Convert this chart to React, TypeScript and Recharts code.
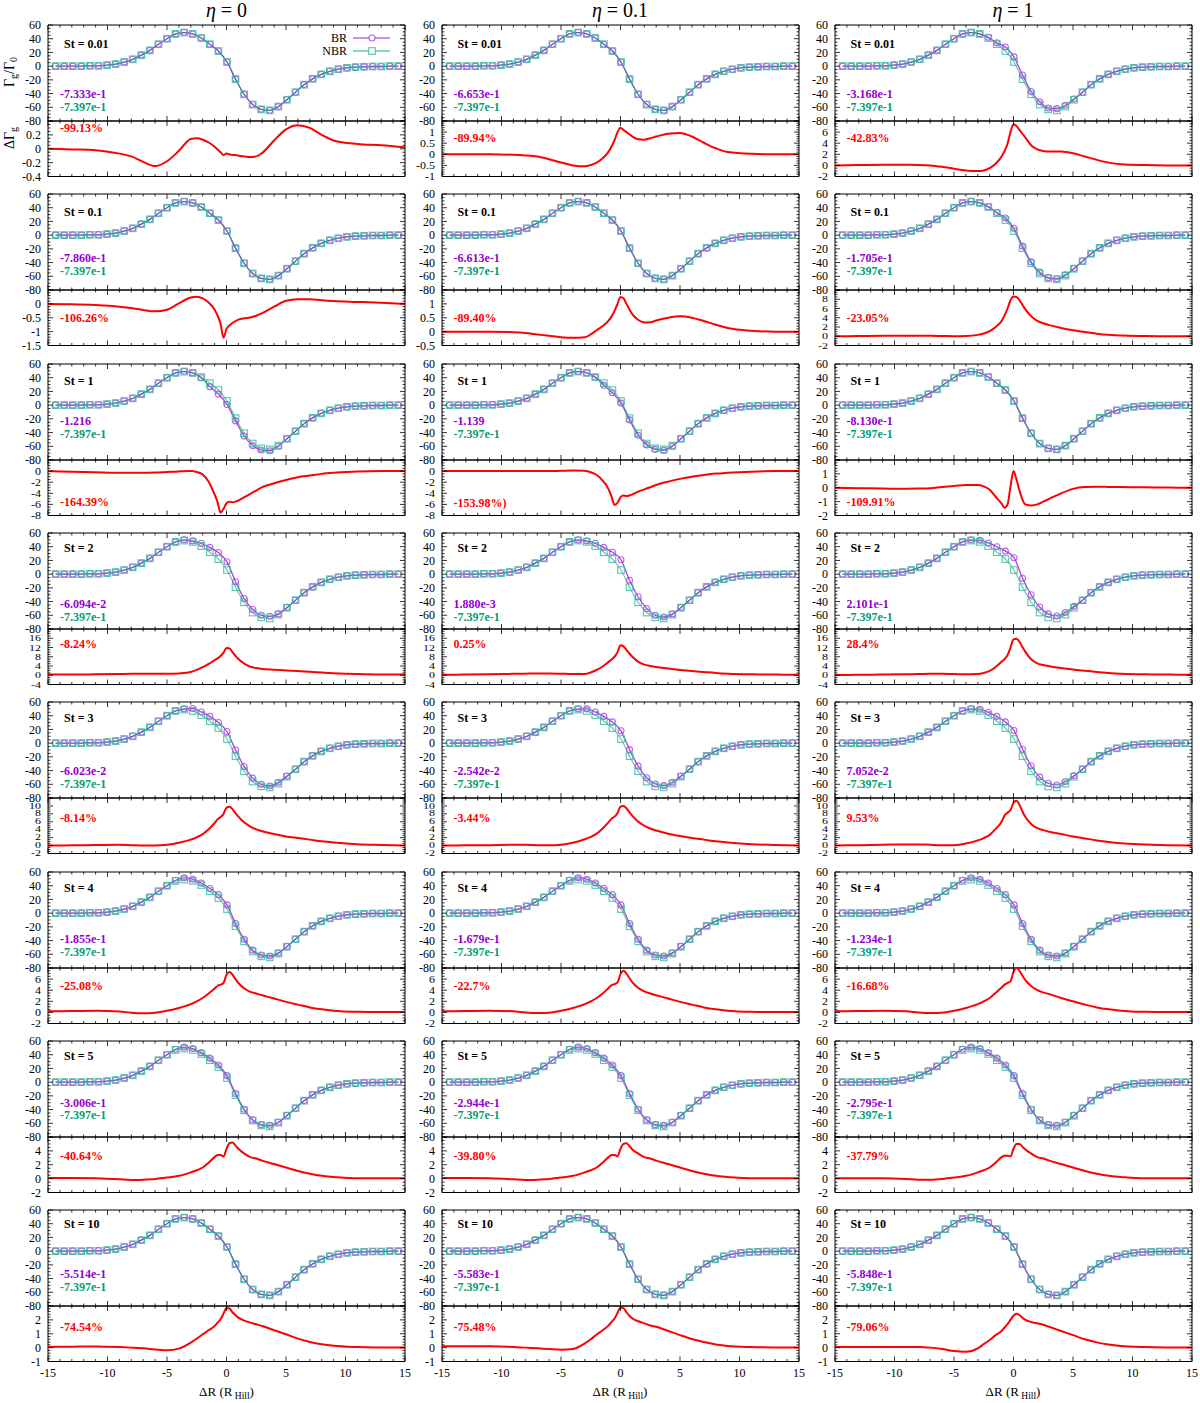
import React from 'react';
import { LineChart, Line, XAxis, YAxis, ReferenceLine } from 'recharts';

const FONT = '"Liberation Serif", "Times New Roman", serif';
const BR_COLOR = '#9400d3';
const NBR_COLOR = '#009e73';
const DIFF_COLOR = '#ff0000';

// ---- labels ----
const ETA_LABELS = ['0', '0.1', '1'];
const ST_LABELS = ['St = 0.01', 'St = 0.1', 'St = 1', 'St = 2', 'St = 3', 'St = 4', 'St = 5', 'St = 10'];
const BR_TORQUE = [
  ['-7.333e-1', '-6.653e-1', '-3.168e-1'],
  ['-7.860e-1', '-6.613e-1', '-1.705e-1'],
  ['-1.216', '-1.139', '-8.130e-1'],
  ['-6.094e-2', '1.880e-3', '2.101e-1'],
  ['-6.023e-2', '-2.542e-2', '7.052e-2'],
  ['-1.855e-1', '-1.679e-1', '-1.234e-1'],
  ['-3.006e-1', '-2.944e-1', '-2.795e-1'],
  ['-5.514e-1', '-5.583e-1', '-5.848e-1'],
];
const NBR_TORQUE = '-7.397e-1';
const DIFF_PERCENT = [
  ['-99.13%', '-89.94%', '-42.83%'],
  ['-106.26%', '-89.40%', '-23.05%'],
  ['-164.39%', '-153.98%)', '-109.91%'],
  ['-8.24%', '0.25%', '28.4%'],
  ['-8.14%', '-3.44%', '9.53%'],
  ['-25.08%', '-22.7%', '-16.68%'],
  ['-40.64%', '-39.80%', '-37.79%'],
  ['-74.54%', '-75.48%', '-79.06%'],
];

// ---- ticks ----
const X_TICKS = [-15, -10, -5, 0, 5, 10, 15];
const MAIN_TICKS = [-80, -60, -40, -20, 0, 20, 40, 60];
const DIFF_TICKS = [
  [[-0.4, -0.2, 0, 0.2, 0.4], [-1, -0.5, 0, 0.5, 1, 1.5], [-2, 0, 2, 4, 6, 8]],
  [[-1.5, -1, -0.5, 0, 0.5], [-0.5, 0, 0.5, 1, 1.5], [-2, 0, 2, 4, 6, 8, 10]],
  [[-8, -6, -4, -2, 0, 2], [-8, -6, -4, -2, 0, 2], [-2, -1, 0, 1, 2]],
  [[-4, 0, 4, 8, 12, 16, 20], [-4, 0, 4, 8, 12, 16, 20], [-4, 0, 4, 8, 12, 16, 20]],
  [[-2, 0, 2, 4, 6, 8, 10, 12], [-2, 0, 2, 4, 6, 8, 10, 12], [-2, 0, 2, 4, 6, 8, 10, 12]],
  [[-2, 0, 2, 4, 6, 8], [-2, 0, 2, 4, 6, 8], [-2, 0, 2, 4, 6, 8]],
  [[-2, 0, 2, 4, 6], [-2, 0, 2, 4, 6], [-2, 0, 2, 4, 6]],
  [[-1, 0, 1, 2, 3], [-1, 0, 1, 2, 3], [-1, 0, 1, 2, 3]],
];
const DIFF_MINOR = [
  [0.05, 0.1, 0.5],
  [0.1, 0.1, 0.5],
  [0.5, 0.5, 0.2],
  [1, 1, 1],
  [0.5, 0.5, 0.5],
  [0.5, 0.5, 0.5],
  [0.5, 0.5, 0.5],
  [0.2, 0.2, 0.2],
];

// ---- torque curves (markers) ----
const MARKER_X = [-14.36, -13.64, -12.92, -12.2, -11.48, -10.76, -10.04, -9.32, -8.6, -7.88, -7.16, -6.44, -5.72, -5.0, -4.28, -3.56, -2.84, -2.12, -1.4, -0.68, 0.04, 0.76, 1.48, 2.2, 2.92, 3.64, 4.36, 5.08, 5.8, 6.52, 7.24, 7.96, 8.68, 9.4, 10.12, 10.84, 11.56, 12.28, 13.0, 13.72, 14.44];
const NBR = [0, 0, 0, 0, 0.5, 0.5, 1.5, 3, 6, 10, 16, 23, 32, 40, 47, 49, 47, 41, 32, 22, 6, -19, -41, -56, -63, -64.5, -59, -49, -38, -27, -18.5, -12, -7.5, -4.5, -2.5, -1.5, -1, -0.5, -0.5, 0, 0];
const BR_ST001_ETA1 = [0, 0, 0, 0, 0.5, 0.5, 1.5, 3, 6, 10, 16, 23, 32, 40, 47, 49, 47, 42, 34, 28, 13.5, -13, -37, -52, -61, -62, -57, -48, -38, -27, -18.5, -12, -7.5, -4.5, -2.5, -1.5, -1, -0.5, -0.5, 0, 0];
const BR_ST01_ETA1 = [0, 0, 0, 0, 0.5, 0.5, 1.5, 3, 6, 10, 16, 23, 32, 40, 47, 49, 47, 41.5, 33, 25, 10, -16, -39, -54, -62, -63.5, -58, -48.5, -38, -27, -18.5, -12, -7.5, -4.5, -2.5, -1.5, -1, -0.5, -0.5, 0, 0];
const BR_ST1_ETA0 = [0, 0, 0, 0, 0.5, 0.5, 1.5, 3, 6, 10, 16, 23, 32, 40, 47, 49, 47, 40, 27, 16, 1, -23, -45, -59, -65.5, -66.5, -60, -49, -38, -27, -18.5, -12, -7.5, -4.5, -2.5, -1.5, -1, -0.5, -0.5, 0, 0];
const BR_ST1_ETA01 = [0, 0, 0, 0, 0.5, 0.5, 1.5, 3, 6, 10, 16, 23, 32, 40, 47, 49, 47, 40.5, 29, 18, 3, -21.5, -44, -58, -64.5, -66, -60, -49, -38, -27, -18.5, -12, -7.5, -4.5, -2.5, -1.5, -1, -0.5, -0.5, 0, 0];
const BR_ST2_ETA0 = [0, 0, 0, 0, 0.5, 0.5, 1.5, 3, 6, 10, 16, 23, 32, 40, 47, 50, 48.5, 45, 39, 31.5, 18, -11, -35.5, -51.5, -60, -61.5, -58, -48.5, -38, -27, -18.5, -12, -7.5, -4.5, -2.5, -1.5, -1, -0.5, -0.5, 0, 0];
const BR_ST2_ETA01 = [0, 0, 0, 0, 0.5, 0.5, 1.5, 3, 6, 10, 16, 23, 32, 40, 47, 50, 48.5, 45, 39, 32, 21, -9, -33, -50, -60, -62.5, -58, -48.5, -38, -27, -18.5, -12, -7.5, -4.5, -2.5, -1.5, -1, -0.5, -0.5, 0, 0];
const BR_ST2_ETA1 = [0, 0, 0, 0, 0.5, 0.5, 1.5, 3, 6, 10, 16, 23, 32, 40, 47, 50, 49.5, 45.5, 40, 33.5, 24, -6, -30, -48, -58, -61, -56, -47, -38, -27, -18.5, -12, -7.5, -4.5, -2.5, -1.5, -1, -0.5, -0.5, 0, 0];
const BR_ST3_ETA0 = [0, 0, 0, 0, 0.5, 0.5, 1.5, 3, 6, 10, 16, 23, 32, 40, 47, 50, 50.5, 45.5, 39, 30, 17, -10, -34, -51, -60, -62.5, -57, -48, -38, -27, -18.5, -12, -7.5, -4.5, -2.5, -1.5, -1, -0.5, -0.5, 0, 0];
const BR_ST3_ETA01 = [0, 0, 0, 0, 0.5, 0.5, 1.5, 3, 6, 10, 16, 23, 32, 40, 47, 50, 50, 45.5, 39, 31, 18, -9.5, -33.5, -50.5, -59.5, -62, -57, -48, -38, -27, -18.5, -12, -7.5, -4.5, -2.5, -1.5, -1, -0.5, -0.5, 0, 0];
const BR_ST3_ETA1 = [0, 0, 0, 0, 0.5, 0.5, 1.5, 3, 6, 10, 16, 23, 32, 40, 47, 50, 49.5, 45, 39, 31, 18.5, -9, -33, -49.5, -58.5, -61, -56, -47.5, -38, -27, -18.5, -12, -7.5, -4.5, -2.5, -1.5, -1, -0.5, -0.5, 0, 0];
const BR_ST4 = [0, 0, 0, 0, 0.5, 0.5, 1.5, 3, 6, 10, 16, 23, 32, 40, 48, 51.5, 49.5, 44, 36, 27, 12, -15, -38, -54, -61, -62.5, -58, -48.5, -38, -27, -18.5, -12, -7.5, -4.5, -2.5, -1.5, -1, -0.5, -0.5, 0, 0];
const BR_ST5 = [0, 0, 0, 0, 0.5, 0.5, 1.5, 3, 6, 10, 16, 23, 32, 40, 48, 51, 49, 43, 35, 25, 9.5, -16.5, -39.5, -55, -62, -63, -58.5, -48.5, -38, -27, -18.5, -12, -7.5, -4.5, -2.5, -1.5, -1, -0.5, -0.5, 0, 0];

const BR_SERIES = [
  [NBR, NBR, BR_ST001_ETA1],
  [NBR, NBR, BR_ST01_ETA1],
  [BR_ST1_ETA0, BR_ST1_ETA01, NBR],
  [BR_ST2_ETA0, BR_ST2_ETA01, BR_ST2_ETA1],
  [BR_ST3_ETA0, BR_ST3_ETA01, BR_ST3_ETA1],
  [BR_ST4, BR_ST4, BR_ST4],
  [BR_ST5, BR_ST5, BR_ST5],
  [NBR, NBR, NBR],
];

// ---- difference curves ----
const DIFF_X = [-15, -13, -11, -9, -8, -7, -6, -5, -4, -3, -2.5, -2, -1.5, -1, -0.75, -0.5, -0.25, 0, 0.25, 0.5, 0.75, 1, 1.5, 2, 2.5, 3, 4, 5, 6, 7, 8, 9, 11, 13, 15];
const D_ST001_ETA0 = [0, -0.01, -0.02, -0.07, -0.11, -0.19, -0.25, -0.18, -0.03, 0.14, 0.15, 0.13, 0.09, 0.03, -0.01, -0.05, -0.09, -0.07, -0.08, -0.09, -0.09, -0.1, -0.11, -0.12, -0.11, -0.06, 0.12, 0.28, 0.34, 0.3, 0.2, 0.12, 0.07, 0.05, 0.02];
const D_ST001_ETA01 = [0, 0, 0, -0.02, -0.05, -0.1, -0.22, -0.37, -0.5, -0.54, -0.48, -0.37, -0.18, 0.12, 0.35, 0.64, 1.0, 1.2, 1.1, 1.0, 0.9, 0.8, 0.68, 0.66, 0.72, 0.8, 0.93, 0.96, 0.8, 0.52, 0.27, 0.1, 0.02, 0, 0];
const D_ST001_ETA1 = [0, 0.05, 0.1, 0.1, 0.08, 0, -0.25, -0.6, -0.9, -1.0, -0.9, -0.5, 0.3, 1.6, 2.6, 3.9, 6.0, 7.4, 7.1, 6.4, 5.7, 5.0, 3.6, 2.9, 2.6, 2.5, 2.5, 2.2, 1.6, 1.0, 0.5, 0.2, 0.05, 0, 0];
const D_ST01_ETA0 = [0, -0.01, -0.04, -0.1, -0.15, -0.22, -0.27, -0.21, 0.02, 0.23, 0.26, 0.2, 0.05, -0.21, -0.42, -0.72, -1.22, -0.9, -0.78, -0.69, -0.62, -0.57, -0.52, -0.49, -0.43, -0.33, -0.1, 0.11, 0.17, 0.17, 0.13, 0.1, 0.07, 0.04, 0];
const D_ST01_ETA01 = [0, 0, 0, -0.02, -0.05, -0.1, -0.15, -0.2, -0.22, -0.2, -0.1, 0.05, 0.2, 0.4, 0.55, 0.75, 1.0, 1.25, 1.2, 1.0, 0.8, 0.62, 0.42, 0.33, 0.34, 0.4, 0.5, 0.55, 0.5, 0.38, 0.25, 0.13, 0.03, 0, 0];
const D_ST01_ETA1 = [0, 0.05, 0.1, 0.1, 0.1, 0.1, 0.05, 0, 0.05, 0.3, 0.6, 1.1, 2.0, 3.3, 4.5, 6.0, 7.8, 8.6, 8.5, 7.8, 6.8, 5.8, 4.3, 3.3, 2.8, 2.4, 1.8, 1.3, 0.9, 0.55, 0.3, 0.15, 0.05, 0, 0];
const D_ST1_ETA0 = [0, -0.1, -0.2, -0.3, -0.3, -0.3, -0.25, -0.15, -0.05, 0, -0.15, -0.6, -1.9, -4.2, -5.6, -7.5, -6.8, -5.8, -5.5, -5.6, -5.5, -5.3, -4.7, -4.1, -3.5, -2.9, -2.2, -1.6, -1.1, -0.8, -0.5, -0.3, -0.05, 0, 0];
const D_ST1_ETA01 = [0, 0, 0, 0, 0, 0, 0, 0.05, 0.1, 0.05, -0.2, -0.7, -1.7, -3.3, -4.6, -6.1, -5.7, -4.7, -4.4, -4.5, -4.4, -4.2, -3.7, -3.3, -2.9, -2.5, -1.9, -1.4, -1.0, -0.7, -0.45, -0.3, -0.1, 0, 0];
const D_ST1_ETA1 = [0, -0.03, -0.06, -0.07, -0.06, -0.03, 0.05, 0.12, 0.2, 0.2, 0.1, -0.14, -0.65, -1.15, -1.45, -1.2, 0.1, 1.2, 0.6, -0.2, -0.85, -1.2, -1.28, -1.2, -1.0, -0.8, -0.4, -0.08, 0.05, 0.07, 0.06, 0.05, 0.03, 0.01, 0];
const D_ST2_ETA0 = [0.3, 0.3, 0.4, 0.5, 0.6, 0.6, 0.6, 0.6, 0.8, 1.4, 2.3, 3.5, 4.9, 6.5, 7.3, 8.3, 9.8, 11.8, 11.6, 10.0, 8.4, 7.0, 5.0, 3.7, 3.1, 2.7, 2.4, 2.1, 1.8, 1.5, 1.2, 0.9, 0.5, 0.3, 0.3];
const D_ST2_ETA01 = [0.2, 0.3, 0.4, 0.6, 0.7, 0.8, 0.8, 0.7, 0.5, 0.5, 1.2, 2.3, 3.8, 5.8, 6.8, 8.0, 10.0, 13.0, 12.5, 11.0, 9.4, 8.0, 5.8, 4.6, 4.0, 3.6, 2.9, 2.3, 1.8, 1.4, 1.0, 0.7, 0.4, 0.3, 0.2];
const D_ST2_ETA1 = [0.1, 0.2, 0.3, 0.4, 0.5, 0.6, 0.6, 0.5, 0.4, 0.5, 1.0, 1.9, 3.6, 5.8, 7.0, 8.7, 12.0, 15.5, 15.8, 14.5, 12.2, 10.1, 6.8, 5.1, 4.4, 3.9, 3.1, 2.5, 1.9, 1.4, 1.0, 0.7, 0.4, 0.3, 0.2];
const D_ST3_ETA0 = [0, 0.05, 0.15, 0.2, 0.1, 0, 0, 0.2, 0.7, 1.5, 2.1, 2.9, 4.1, 5.7, 6.6, 7.2, 8.0, 9.6, 9.8, 9.2, 8.2, 7.3, 5.8, 4.8, 4.1, 3.6, 2.9, 2.3, 1.9, 1.5, 1.1, 0.8, 0.35, 0.15, 0];
const D_ST3_ETA01 = [0, 0.05, 0.1, 0.2, 0.2, 0.1, 0.05, 0.2, 0.7, 1.6, 2.2, 3.0, 4.3, 5.9, 6.8, 7.3, 8.2, 9.8, 10.0, 9.4, 8.4, 7.5, 6.0, 5.0, 4.3, 3.8, 3.0, 2.4, 1.9, 1.5, 1.1, 0.8, 0.35, 0.15, 0];
const D_ST3_ETA1 = [0, 0.1, 0.2, 0.3, 0.3, 0.2, 0.1, 0.1, 0.5, 1.3, 1.9, 2.7, 4.2, 6.0, 7.6, 8.3, 9.0, 10.8, 11.3, 10.3, 8.6, 7.2, 5.4, 4.4, 3.9, 3.5, 2.9, 2.3, 1.8, 1.3, 0.9, 0.6, 0.3, 0.1, 0];
const D_ST4_ETA0 = [0.2, 0.25, 0.3, 0.15, -0.05, -0.15, -0.05, 0.3, 0.8, 1.5, 2.0, 2.6, 3.4, 4.3, 4.8, 5.0, 5.3, 6.8, 7.3, 6.8, 6.0, 5.3, 4.3, 3.7, 3.4, 3.1, 2.5, 1.9, 1.4, 0.9, 0.55, 0.3, 0.1, 0.05, 0.05];
const D_ST4_ETA01 = [0.2, 0.25, 0.3, 0.2, 0, -0.1, -0.05, 0.3, 0.8, 1.5, 2.0, 2.6, 3.4, 4.4, 4.9, 5.1, 5.4, 6.9, 7.5, 7.0, 6.2, 5.4, 4.4, 3.8, 3.4, 3.1, 2.5, 1.9, 1.4, 0.9, 0.55, 0.3, 0.1, 0.05, 0.05];
const D_ST4_ETA1 = [0.2, 0.25, 0.3, 0.2, 0, -0.1, -0.05, 0.3, 0.8, 1.5, 2.0, 2.6, 3.5, 4.5, 5.0, 5.3, 5.6, 7.3, 8.0, 7.5, 6.6, 5.8, 4.7, 4.0, 3.6, 3.3, 2.6, 2.0, 1.4, 0.9, 0.55, 0.3, 0.1, 0.05, 0.05];
const D_ST5_ETA0 = [0.1, 0.1, 0.05, -0.1, -0.2, -0.15, -0.05, 0.15, 0.4, 0.9, 1.2, 1.6, 2.3, 3.1, 3.4, 3.4, 3.2, 4.3, 5.1, 5.2, 4.8, 4.3, 3.6, 3.1, 2.9, 2.6, 2.1, 1.6, 1.1, 0.7, 0.4, 0.25, 0.05, 0.05, 0.05];
const D_ST5_ETA01 = [0.1, 0.1, 0.05, -0.1, -0.2, -0.15, -0.05, 0.15, 0.4, 0.9, 1.2, 1.6, 2.3, 3.1, 3.4, 3.4, 3.2, 4.3, 5.0, 5.1, 4.7, 4.2, 3.6, 3.1, 2.9, 2.6, 2.1, 1.6, 1.1, 0.7, 0.4, 0.25, 0.05, 0.05, 0.05];
const D_ST5_ETA1 = [0.05, 0.05, 0.05, -0.05, -0.15, -0.15, -0.05, 0.15, 0.4, 0.9, 1.2, 1.6, 2.3, 3.1, 3.3, 3.3, 3.2, 4.3, 5.0, 5.0, 4.6, 4.2, 3.6, 3.1, 2.9, 2.6, 2.1, 1.6, 1.1, 0.7, 0.4, 0.25, 0.05, 0.05, 0.05];
const D_ST10_ETA0 = [0.05, 0.07, 0.08, 0.04, 0, -0.05, -0.13, -0.19, -0.07, 0.36, 0.65, 0.96, 1.25, 1.56, 1.8, 2.04, 2.45, 2.85, 2.82, 2.55, 2.35, 2.16, 1.95, 1.8, 1.68, 1.56, 1.25, 0.96, 0.65, 0.41, 0.24, 0.13, 0.04, 0.01, 0];
const D_ST10_ETA01 = [0.1, 0.1, 0.1, 0.05, 0, -0.05, -0.1, -0.15, -0.1, 0.3, 0.6, 0.95, 1.25, 1.6, 1.85, 2.1, 2.5, 2.9, 2.85, 2.55, 2.3, 2.1, 1.9, 1.75, 1.6, 1.5, 1.2, 0.9, 0.62, 0.4, 0.23, 0.12, 0.04, 0.01, 0];
const D_ST10_ETA1 = [0.05, 0.05, 0.05, 0.05, 0.05, 0, -0.1, -0.25, -0.3, -0.05, 0.25, 0.55, 0.9, 1.2, 1.45, 1.7, 2.0, 2.3, 2.45, 2.35, 2.15, 2.0, 1.85, 1.75, 1.65, 1.5, 1.2, 0.9, 0.6, 0.38, 0.22, 0.12, 0.04, 0.01, 0];

const DIFF_SERIES = [
  [D_ST001_ETA0, D_ST001_ETA01, D_ST001_ETA1],
  [D_ST01_ETA0, D_ST01_ETA01, D_ST01_ETA1],
  [D_ST1_ETA0, D_ST1_ETA01, D_ST1_ETA1],
  [D_ST2_ETA0, D_ST2_ETA01, D_ST2_ETA1],
  [D_ST3_ETA0, D_ST3_ETA01, D_ST3_ETA1],
  [D_ST4_ETA0, D_ST4_ETA01, D_ST4_ETA1],
  [D_ST5_ETA0, D_ST5_ETA01, D_ST5_ETA1],
  [D_ST10_ETA0, D_ST10_ETA01, D_ST10_ETA1],
];

// ---- layout ----
const PLOT_LEFT = [48, 441.5, 834.5];
const PLOT_W = 357;
const TOP0 = 25;
const ROW_STEP = 169.3;
const MAIN_H = 96;
const DIFF_H = 55.5;
const ML = 40;
const MR = 6;
const MT = 6;
const MB = 6;
const ST_DY = [19, 17, 17.5, 14.5, 16, 16.5, 15, 14];
const BR_DY = [69, 63.5, 57.5, 71, 69, 67.5, 61.5, 64];
const PCT_DY = [
  [7, 16.5, 16.5],
  [27, 27, 27],
  [42, 43, 42],
  [15, 15, 15],
  [19.5, 19.5, 19.5],
  [18, 18, 18],
  [19, 19, 19],
  [21, 21, 21],
];

function tickRange(lo: number, hi: number, step: number) {
  const n = Math.round((hi - lo) / step);
  return Array.from({ length: n + 1 }, (_, i) => +(lo + i * step).toFixed(4));
}

const X_ALL = tickRange(-15, 15, 1);
const MAIN_ALL = tickRange(-80, 60, 5);

const near = (a: number, b: number) => Math.abs(a - b) < 1e-6;

function xTick(plotH: number, showLabel: boolean) {
  return (props: any) => {
    const { x, y, payload } = props;
    const v = payload.value;
    const major = X_TICKS.some((m) => near(m, v));
    const len = major ? 5 : 2.5;
    return (
      <g>
        <line x1={x} y1={y} x2={x} y2={y - len} stroke="#000" strokeWidth={0.8} />
        <line x1={x} y1={y - plotH} x2={x} y2={y - plotH + len} stroke="#000" strokeWidth={0.8} />
        {showLabel && major && (
          <text x={x} y={y + 11} dy="0.35em" textAnchor="middle" fontFamily={FONT} fontSize={12} fill="#000">
            {String(v)}
          </text>
        )}
      </g>
    );
  };
}

function yTick(majors: number[], showTop: boolean, plotH: number) {
  const lo = majors[0];
  const top = majors[majors.length - 1];
  // vertical spacing between labelled ticks, in px; crowded axes get squashed labels
  const gap = (plotH * (majors[1] - majors[0])) / (top - lo);
  const squash = gap < 12.5 ? Math.max(0.55, (gap - 0.5) / 12) : 1;
  return (props: any) => {
    const { x, y, payload } = props;
    const v = payload.value;
    const major = majors.some((m) => near(m, v));
    const len = major ? 5 : 2.5;
    const label = major && (showTop || !near(v, top));
    return (
      <g>
        <line x1={x} y1={y} x2={x + len} y2={y} stroke="#000" strokeWidth={0.8} />
        <line x1={x + PLOT_W} y1={y} x2={x + PLOT_W - len} y2={y} stroke="#000" strokeWidth={0.8} />
        {label && (
          <text
            transform={`translate(${x - 7},${y}) scale(1,${squash})`}
            x={0}
            y={0}
            dy="0.35em"
            textAnchor="end"
            fontFamily={FONT}
            fontSize={12}
            fill="#000"
          >
            {String(v)}
          </text>
        )}
      </g>
    );
  };
}

const squareDot = (props: any) => {
  const { cx, cy, index } = props;
  if (cx == null || cy == null) return <g key={`sq-${index}`} />;
  return (
    <rect
      key={`sq-${index}`}
      x={cx - 3.3}
      y={cy - 3.3}
      width={6.6}
      height={6.6}
      fill="none"
      stroke="#3dbb9f"
      strokeOpacity={0.85}
      strokeWidth={1.1}
    />
  );
};

function MainPanel({ row, col }: { row: number; col: number }) {
  const br = BR_SERIES[row][col];
  const data = MARKER_X.map((x, i) => ({ x, br: br[i], nbr: NBR[i] }));
  const top = TOP0 + row * ROW_STEP;
  return (
    <div style={{ position: 'absolute', left: PLOT_LEFT[col] - ML, top: top - MT }}>
      <LineChart width={PLOT_W + ML + MR} height={MAIN_H + MT + MB} data={data} margin={{ top: MT, right: MR, bottom: 0, left: 0 }}>
        <XAxis
          dataKey="x"
          type="number"
          domain={[-15, 15]}
          ticks={X_ALL}
          interval={0}
          height={MB}
          tickSize={0}
          tickMargin={0}
          tickLine={false}
          axisLine={false}
          allowDataOverflow
          tick={xTick(MAIN_H, false)}
        />
        <YAxis
          type="number"
          domain={[-80, 60]}
          ticks={MAIN_ALL}
          interval={0}
          width={ML}
          tickSize={0}
          tickMargin={0}
          tickLine={false}
          axisLine={false}
          allowDataOverflow
          tick={yTick(MAIN_TICKS, true, MAIN_H)}
        />
        <ReferenceLine y={60} stroke="#000" strokeWidth={1} />
        <ReferenceLine y={-80} stroke="#000" strokeWidth={1} />
        <ReferenceLine x={-15} stroke="#000" strokeWidth={1} />
        <ReferenceLine x={15} stroke="#000" strokeWidth={1} />
        <Line
          dataKey="br"
          type="monotone"
          stroke={BR_COLOR}
          strokeOpacity={0.75}
          strokeWidth={1.3}
          dot={{ r: 3, stroke: '#a63ee8', strokeOpacity: 0.8, strokeWidth: 1.1, fill: 'none' }}
          isAnimationActive={false}
        />
        <Line
          dataKey="nbr"
          type="monotone"
          stroke={NBR_COLOR}
          strokeOpacity={0.55}
          strokeWidth={1.3}
          dot={squareDot}
          isAnimationActive={false}
        />
      </LineChart>
    </div>
  );
}

function DiffPanel({ row, col }: { row: number; col: number }) {
  const ys = DIFF_SERIES[row][col];
  const majors = DIFF_TICKS[row][col];
  const lo = majors[0];
  const hi = majors[majors.length - 1];
  const data = DIFF_X.map((x, i) => ({ x, d: ys[i] }));
  const top = TOP0 + row * ROW_STEP + MAIN_H;
  const last = row === ST_LABELS.length - 1;
  const mb = last ? 24 : MB;
  return (
    <div style={{ position: 'absolute', left: PLOT_LEFT[col] - ML, top: top - MT }}>
      <LineChart width={PLOT_W + ML + MR} height={DIFF_H + MT + mb} data={data} margin={{ top: MT, right: MR, bottom: 0, left: 0 }}>
        <XAxis
          dataKey="x"
          type="number"
          domain={[-15, 15]}
          ticks={X_ALL}
          interval={0}
          height={mb}
          tickSize={0}
          tickMargin={0}
          tickLine={false}
          axisLine={false}
          allowDataOverflow
          tick={xTick(DIFF_H, last)}
        />
        <YAxis
          type="number"
          domain={[lo, hi]}
          ticks={tickRange(lo, hi, DIFF_MINOR[row][col])}
          interval={0}
          width={ML}
          tickSize={0}
          tickMargin={0}
          tickLine={false}
          axisLine={false}
          allowDataOverflow
          tick={yTick(majors, false, DIFF_H)}
        />
        <ReferenceLine y={hi} stroke="#000" strokeWidth={1} />
        <ReferenceLine y={lo} stroke="#000" strokeWidth={1} />
        <ReferenceLine x={-15} stroke="#000" strokeWidth={1} />
        <ReferenceLine x={15} stroke="#000" strokeWidth={1} />
        <Line dataKey="d" type="monotone" stroke={DIFF_COLOR} strokeWidth={2} dot={false} isAnimationActive={false} />
      </LineChart>
    </div>
  );
}

function Overlay() {
  const texts: React.ReactNode[] = [];
  ST_LABELS.forEach((st, r) => {
    const mainTop = TOP0 + r * ROW_STEP;
    const diffTop = mainTop + MAIN_H;
    ETA_LABELS.forEach((_, c) => {
      const left = PLOT_LEFT[c];
      texts.push(
        <text key={`st-${r}-${c}`} x={left + 16} y={mainTop + ST_DY[r]} dy="0.35em" fontFamily={FONT} fontWeight="bold" fontSize={12} fill="#000">
          {st}
        </text>,
        <text key={`br-${r}-${c}`} x={left + 12} y={mainTop + BR_DY[r]} dy="0.35em" fontFamily={FONT} fontWeight="bold" fontSize={12} fill={BR_COLOR}>
          {BR_TORQUE[r][c]}
        </text>,
        <text key={`nbr-${r}-${c}`} x={left + 12} y={mainTop + BR_DY[r] + 12.5} dy="0.35em" fontFamily={FONT} fontWeight="bold" fontSize={12} fill={NBR_COLOR}>
          {NBR_TORQUE}
        </text>,
        <text key={`pct-${r}-${c}`} x={left + 12} y={diffTop + PCT_DY[r][c]} dy="0.35em" fontFamily={FONT} fontWeight="bold" fontSize={12} fill={DIFF_COLOR}>
          {DIFF_PERCENT[r][c]}
        </text>
      );
    });
  });
  const bottom = TOP0 + (ST_LABELS.length - 1) * ROW_STEP + MAIN_H + DIFF_H;
  return (
    <svg width={1200} height={1403} style={{ position: 'absolute', left: 0, top: 0, pointerEvents: 'none' }}>
      {texts}
      {ETA_LABELS.map((eta, c) => (
        <text key={`eta-${c}`} x={PLOT_LEFT[c] + PLOT_W / 2} y={17} textAnchor="middle" fontFamily={FONT} fontSize={20} fill="#000">
          <tspan fontStyle="italic">η</tspan> = {eta}
        </text>
      ))}
      {ETA_LABELS.map((_, c) => (
        <text key={`xt-${c}`} x={PLOT_LEFT[c] + PLOT_W / 2} y={bottom + 34} textAnchor="middle" fontFamily={FONT} fontSize={13} fill="#000">
          ΔR (R<tspan fontSize={9.5} dy={3}> Hill</tspan>
          <tspan dy={-3}>)</tspan>
        </text>
      ))}
      <text x={14} y={72} transform="rotate(-90 14 72)" textAnchor="middle" fontFamily={FONT} fontSize={14} fill="#000">
        Γ<tspan fontSize={10} dy={3}>g</tspan>
        <tspan dy={-3}>/Γ</tspan>
        <tspan fontSize={10} dy={3}>0</tspan>
      </text>
      <text x={14} y={138} transform="rotate(-90 14 138)" textAnchor="middle" fontFamily={FONT} fontSize={14} fill="#000">
        ΔΓ<tspan fontSize={10} dy={3}>g</tspan>
      </text>
      {/* legend */}
      <text x={347} y={38} dy="0.35em" textAnchor="end" fontFamily={FONT} fontSize={12} fill="#000">BR</text>
      <line x1={353} y1={38} x2={390} y2={38} stroke={BR_COLOR} strokeOpacity={0.6} strokeWidth={1.3} />
      <circle cx={372} cy={38} r={3} fill="#fff" stroke="#a63ee8" strokeOpacity={0.8} strokeWidth={1.1} />
      <text x={347} y={51} dy="0.35em" textAnchor="end" fontFamily={FONT} fontSize={12} fill="#000">NBR</text>
      <line x1={353} y1={51} x2={390} y2={51} stroke={NBR_COLOR} strokeOpacity={0.6} strokeWidth={1.3} />
      <rect x={368.7} y={47.7} width={6.6} height={6.6} fill="#fff" stroke="#3dbb9f" strokeOpacity={0.85} strokeWidth={1.1} />
    </svg>
  );
}

export default function App() {
  return (
    <div style={{ position: 'absolute', left: 0, top: 0, width: 1200, height: 1403, background: '#fff', overflow: 'hidden' }}>
      {ST_LABELS.map((_, r) =>
        ETA_LABELS.map((__, c) => (
          <React.Fragment key={`p-${r}-${c}`}>
            <MainPanel row={r} col={c} />
            <DiffPanel row={r} col={c} />
          </React.Fragment>
        ))
      )}
      <Overlay />
    </div>
  );
}
